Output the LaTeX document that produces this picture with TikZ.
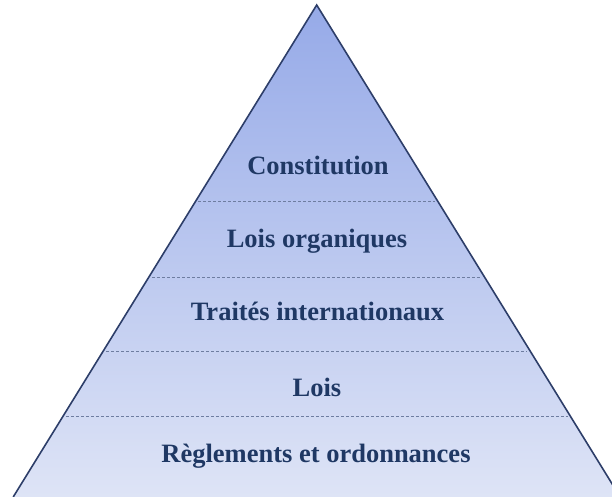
\documentclass[tikz,border=0pt]{standalone}
\usepackage{fontspec}
\setmainfont{Liberation Serif}
\definecolor{pyrnavy}{RGB}{31,56,100}
\definecolor{pyredge}{RGB}{45,62,105}
\definecolor{pyrtop}{RGB}{150,170,232}
\definecolor{pyrbottom}{RGB}{222,228,246}
\definecolor{pyrsep}{RGB}{110,125,160}
\tikzset{level/.style={text=pyrnavy,font=\fontsize{26.5}{30}\bfseries\selectfont,anchor=base,inner sep=0pt},
 levelsep/.style={draw=pyrsep,line width=0.8pt,dash pattern=on 3pt off 2pt}}
\begin{document}
\begin{tikzpicture}[x=1pt,y=-1pt]
\useasboundingbox (0,0) rectangle (612,497);
\clip (0,0) rectangle (612,497);
\coordinate (apex) at (316.7,5);
\coordinate (bl) at (13.2,497);
\coordinate (br) at (620.2,497);
\shade[top color=pyrtop,bottom color=pyrbottom] (apex) -- (bl) -- (br) -- cycle;
% separations between the levels
\foreach \y in {201.5,277,351,416.5}
 \draw[levelsep] ({316.7-0.617*(\y-5)+3},\y) -- ({316.7+0.617*(\y-5)-3},\y);
\draw[pyredge,line width=1.6pt,line join=miter] (bl) -- (apex) -- (br);
\node[level] (constitution) at (318,175) {Constitution};
\node[level] (organiques) at (317,247.3) {Lois organiques};
\node[level] (traites) at (317.5,320) {Traités internationaux};
\node[level] (lois) at (317,396.7) {Lois};
\node[level] (reglements) at (316,462.7) {Règlements et ordonnances};
\end{tikzpicture}
\end{document}
